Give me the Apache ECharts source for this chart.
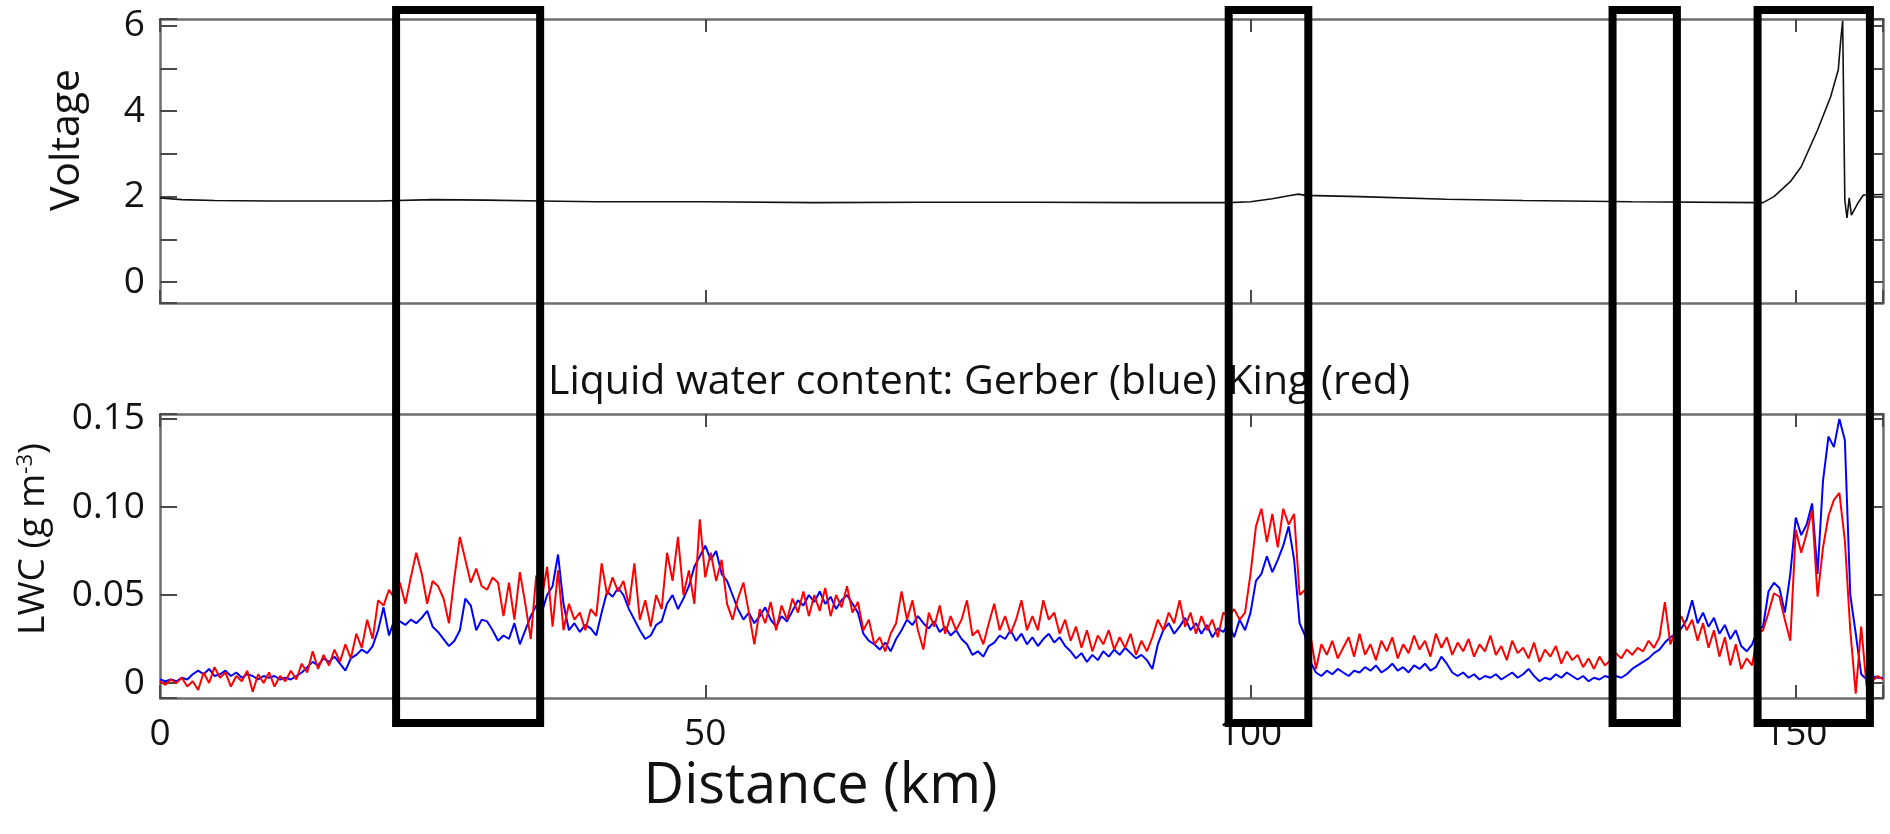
<!DOCTYPE html>
<html>
<head>
<meta charset="utf-8">
<title>Voltage and liquid water content</title>
<script src="https://cdn.jsdelivr.net/npm/echarts@6.0.0/dist/echarts.min.js"></script>
<style>
  html, body { margin: 0; padding: 0; background: #fff; }
  #main { width: 1890px; height: 834px; }
</style>
</head>
<body>
<div id="main"></div>
<script>
// distance axis (km)
const distanceMax = 158;
const distanceTicks = [0, 50, 100, 150];

// voltage trace
const voltageKm = [0, 2, 5, 10, 15, 20, 25, 30, 35, 40, 50, 60, 70, 80, 90, 98, 100, 102, 103.5, 104.4, 105, 110, 118, 125, 135, 146.5, 147,
  148, 149.5, 150.5, 152, 153.2, 153.9, 154.1, 154.3, 154.5, 154.7, 154.9, 155.1, 155.7, 156.2, 158];
const voltage = [1.97, 1.93, 1.91, 1.9, 1.9, 1.9, 1.93, 1.92, 1.9, 1.88, 1.88, 1.86, 1.87, 1.87, 1.86, 1.86, 1.88, 1.95, 2.02, 2.06, 2.03, 2.0, 1.94, 1.91, 1.88, 1.86, 1.86,
  2.0, 2.35, 2.7, 3.56, 4.34, 4.97, 5.6, 6.12, 1.92, 1.5, 1.97, 1.57, 1.85, 2.04, 2.05];
const voltageLabels = [0, 2, 4, 6];

// liquid water content, one sample every 0.5 km from 0 km
const lwcStepKm = 0.5;
const gerberLwc = [
  0.002, 0.001, 0.002, 0.001, 0.003, 0.002, 0.005, 0.007, 0.005, 0.008, 0.004, 0.005, 0.007, 0.004, 0.006, 0.003, 0.005, 0.004, 0.002, 0.004,
  0.003, 0.004, 0.002, 0.003, 0.002, 0.004, 0.006, 0.009, 0.012, 0.010, 0.014, 0.012, 0.015, 0.011, 0.007, 0.014, 0.016, 0.019, 0.017, 0.021,
  0.030, 0.043, 0.027, 0.036, 0.035, 0.033, 0.036, 0.034, 0.037, 0.041, 0.032, 0.029, 0.025, 0.021, 0.024, 0.030, 0.048, 0.044, 0.030, 0.036,
  0.035, 0.030, 0.024, 0.027, 0.025, 0.034, 0.022, 0.030, 0.038, 0.044, 0.040, 0.050, 0.055, 0.073, 0.045, 0.030, 0.034, 0.029, 0.033, 0.031,
  0.027, 0.040, 0.052, 0.049, 0.054, 0.050, 0.042, 0.036, 0.030, 0.025, 0.027, 0.033, 0.035, 0.045, 0.050, 0.042, 0.048, 0.055, 0.066, 0.072,
  0.078, 0.070, 0.075, 0.062, 0.058, 0.050, 0.042, 0.036, 0.040, 0.034, 0.038, 0.043, 0.036, 0.032, 0.038, 0.035, 0.041, 0.047, 0.044, 0.050,
  0.046, 0.052, 0.045, 0.049, 0.042, 0.047, 0.050, 0.045, 0.040, 0.028, 0.024, 0.022, 0.019, 0.023, 0.018, 0.025, 0.030, 0.036, 0.033, 0.038,
  0.034, 0.031, 0.035, 0.029, 0.032, 0.027, 0.030, 0.025, 0.022, 0.016, 0.018, 0.015, 0.021, 0.023, 0.027, 0.025, 0.030, 0.024, 0.028, 0.022,
  0.026, 0.021, 0.025, 0.028, 0.023, 0.026, 0.021, 0.018, 0.014, 0.017, 0.012, 0.016, 0.013, 0.018, 0.015, 0.019, 0.016, 0.020, 0.017, 0.014,
  0.016, 0.013, 0.008, 0.022, 0.030, 0.034, 0.028, 0.032, 0.037, 0.030, 0.034, 0.028, 0.033, 0.026, 0.031, 0.029, 0.034, 0.026, 0.036, 0.030,
  0.040, 0.058, 0.062, 0.072, 0.063, 0.070, 0.078, 0.089, 0.070, 0.034, 0.027, 0.012, 0.006, 0.004, 0.007, 0.005, 0.008, 0.006, 0.004, 0.007,
  0.006, 0.009, 0.007, 0.010, 0.006, 0.008, 0.011, 0.007, 0.009, 0.006, 0.010, 0.008, 0.011, 0.007, 0.009, 0.015, 0.011, 0.006, 0.004, 0.006,
  0.003, 0.005, 0.002, 0.004, 0.003, 0.005, 0.002, 0.004, 0.006, 0.003, 0.005, 0.008, 0.004, 0.001, 0.003, 0.002, 0.005, 0.003, 0.006, 0.004,
  0.002, 0.004, 0.001, 0.003, 0.002, 0.004, 0.003, 0.004, 0.003, 0.005, 0.008, 0.010, 0.012, 0.014, 0.017, 0.019, 0.023, 0.026, 0.028, 0.031,
  0.036, 0.047, 0.034, 0.040, 0.032, 0.037, 0.028, 0.033, 0.025, 0.030, 0.021, 0.018, 0.022, 0.030, 0.032, 0.052, 0.057, 0.054, 0.040, 0.062,
  0.094, 0.084, 0.090, 0.102, 0.062, 0.115, 0.140, 0.134, 0.150, 0.138, 0.050, 0.028, 0.005, 0.002, 0.004, 0.003, 0.003
];
const kingLwc = [
  0.001, -0.001, 0.002, 0.000, 0.003, -0.002, 0.001, -0.004, 0.006, 0.000, 0.009, 0.003, 0.006, -0.002, 0.004, 0.001, 0.007, -0.005, 0.005, 0.000,
  0.006, -0.002, 0.004, 0.001, 0.007, 0.002, 0.011, 0.006, 0.018, 0.008, 0.016, 0.010, 0.019, 0.012, 0.022, 0.014, 0.028, 0.020, 0.036, 0.025,
  0.047, 0.044, 0.053, 0.048, 0.057, 0.045, 0.060, 0.074, 0.062, 0.045, 0.058, 0.055, 0.048, 0.034, 0.060, 0.083, 0.070, 0.057, 0.065, 0.055,
  0.053, 0.060, 0.057, 0.038, 0.057, 0.036, 0.063, 0.045, 0.025, 0.061, 0.048, 0.066, 0.032, 0.064, 0.030, 0.045, 0.036, 0.040, 0.030, 0.042,
  0.038, 0.068, 0.050, 0.060, 0.052, 0.058, 0.044, 0.068, 0.036, 0.047, 0.032, 0.050, 0.042, 0.074, 0.058, 0.083, 0.050, 0.064, 0.045, 0.093,
  0.060, 0.074, 0.058, 0.070, 0.045, 0.036, 0.048, 0.057, 0.040, 0.022, 0.042, 0.034, 0.046, 0.030, 0.044, 0.036, 0.048, 0.040, 0.052, 0.038,
  0.050, 0.041, 0.054, 0.038, 0.050, 0.043, 0.055, 0.040, 0.046, 0.030, 0.036, 0.022, 0.026, 0.018, 0.028, 0.034, 0.052, 0.036, 0.047, 0.030,
  0.019, 0.040, 0.032, 0.044, 0.028, 0.038, 0.030, 0.036, 0.047, 0.027, 0.030, 0.022, 0.034, 0.045, 0.030, 0.038, 0.028, 0.036, 0.047, 0.030,
  0.038, 0.030, 0.047, 0.036, 0.040, 0.028, 0.036, 0.024, 0.032, 0.020, 0.030, 0.018, 0.027, 0.022, 0.030, 0.019, 0.026, 0.020, 0.028, 0.016,
  0.024, 0.018, 0.026, 0.036, 0.030, 0.040, 0.034, 0.047, 0.032, 0.040, 0.028, 0.038, 0.030, 0.036, 0.026, 0.040, 0.038, 0.042, 0.036, 0.040,
  0.062, 0.089, 0.099, 0.080, 0.096, 0.077, 0.099, 0.090, 0.096, 0.050, 0.053, 0.027, 0.008, 0.022, 0.016, 0.024, 0.014, 0.020, 0.026, 0.015,
  0.028, 0.016, 0.022, 0.013, 0.024, 0.018, 0.026, 0.014, 0.022, 0.017, 0.027, 0.019, 0.024, 0.015, 0.028, 0.020, 0.026, 0.016, 0.023, 0.018,
  0.025, 0.015, 0.022, 0.018, 0.027, 0.016, 0.021, 0.013, 0.024, 0.017, 0.020, 0.014, 0.023, 0.012, 0.019, 0.015, 0.021, 0.011, 0.018, 0.013,
  0.016, 0.009, 0.014, 0.008, 0.015, 0.010, 0.013, 0.017, 0.014, 0.019, 0.016, 0.020, 0.018, 0.024, 0.020, 0.026, 0.046, 0.022, 0.030, 0.038,
  0.030, 0.036, 0.024, 0.034, 0.020, 0.030, 0.015, 0.026, 0.010, 0.022, 0.008, 0.014, 0.010, 0.028, 0.030, 0.040, 0.051, 0.049, 0.036, 0.024,
  0.087, 0.074, 0.085, 0.098, 0.049, 0.077, 0.095, 0.104, 0.108, 0.081, 0.030, -0.006, 0.032, -0.002, 0.001, 0.004, 0.002
];
const lwcLabels = [0, 0.05, 0.10, 0.15];

// highlighted stretches (km)
const boxStartKm = [21.65, 98.0, 133.2, 146.5];
const boxEndKm = [34.86, 105.3, 139.1, 156.8];

const FONT = 'Open Sans';
const frameColor = '#6e6e6e';
const tickColor = '#4a4a4a';

// label only the listed values, hide the rest (extent ticks included)
const labelIf = (list, digits) => (v) => {
  const hit = list.find((t) => Math.abs(t - v) < 1e-9);
  if (hit === undefined) return '';
  return hit === 0 ? '0' : hit.toFixed(digits);
};

const toPairs = (values) => values.map((v, i) => [i * lwcStepKm, v]);
const voltagePairs = voltageKm.map((km, i) => [km, voltage[i]]);

function xAxisFor(gridIndex, position, withLabels) {
  return {
    type: 'value',
    gridIndex,
    position,
    min: 0,
    max: distanceMax,
    interval: 50,
    axisLine: { show: true, onZero: false, lineStyle: { color: frameColor, width: 2.5 } },
    axisTick: { show: true, inside: true, length: 13, lineStyle: { color: tickColor, width: 2 } },
    axisLabel: {
      show: withLabels,
      margin: 18,
      color: '#111',
      fontFamily: FONT,
      fontSize: 37,
      formatter: labelIf(distanceTicks, 0)
    },
    splitLine: { show: false }
  };
}

function yAxisFor(gridIndex, position, min, max, splitNumber, labels, digits, withLabels) {
  return {
    type: 'value',
    gridIndex,
    position,
    min,
    max,
    splitNumber,
    axisLine: { show: true, onZero: false, lineStyle: { color: frameColor, width: 2.5 } },
    axisTick: { show: true, inside: true, length: 17, lineStyle: { color: tickColor, width: 2 } },
    axisLabel: {
      show: withLabels,
      margin: 15,
      color: '#111',
      fontFamily: FONT,
      fontSize: 37,
      formatter: labelIf(labels, digits)
    },
    splitLine: { show: false }
  };
}

const chart = echarts.init(document.getElementById('main'), null, { renderer: 'canvas' });

// left padding on the rotated names lifts them a little above the panel centre
const topAxisY = yAxisFor(0, 'left', -0.49, 6.16, 7, voltageLabels, 0, true);
topAxisY.name = 'Voltage';
topAxisY.nameLocation = 'middle';
topAxisY.nameGap = 72;
topAxisY.nameTextStyle = { fontFamily: FONT, fontSize: 41, color: '#111', padding: [0, 0, 0, 42] };

const lowAxisY = yAxisFor(1, 'left', -0.0085, 0.1528, 3, lwcLabels, 2, true);
lowAxisY.name = 'LWC (g m{sup|-3})';
lowAxisY.nameLocation = 'middle';
lowAxisY.nameGap = 108;
lowAxisY.nameTextStyle = {
  fontFamily: FONT, fontSize: 37, color: '#111', padding: [0, 0, 0, 34],
  rich: { sup: { fontFamily: FONT, fontSize: 22, color: '#111', verticalAlign: 'top', padding: [0, 0, 14, 0] } }
};

const lowAxisX = xAxisFor(1, 'bottom', true);
lowAxisX.name = 'Distance (km)';
lowAxisX.nameLocation = 'middle';
lowAxisX.nameGap = 61;
lowAxisX.nameTextStyle = { fontFamily: FONT, fontSize: 56, color: '#111', padding: [0, 402, 0, 0] };

const option = {
  animation: false,
  backgroundColor: '#fff',
  title: [{
    text: 'Liquid water content: Gerber (blue) King (red)',
    left: 548,
    top: 362,
    padding: 0,
    textStyle: { fontFamily: FONT, fontSize: 41, fontWeight: 'normal', color: '#111' }
  }],
  grid: [
    { left: 160, right: 7, top: 19, height: 284, outerBoundsMode: 'none' },
    { left: 160, right: 7, top: 414, height: 284, outerBoundsMode: 'none' }
  ],
  xAxis: [
    xAxisFor(0, 'bottom', false),
    xAxisFor(0, 'top', false),
    lowAxisX,
    xAxisFor(1, 'top', false)
  ],
  yAxis: [
    topAxisY,
    yAxisFor(0, 'right', -0.49, 6.16, 7, voltageLabels, 0, false),
    lowAxisY,
    yAxisFor(1, 'right', -0.0085, 0.1528, 3, lwcLabels, 2, false)
  ],
  series: [
    {
      name: 'Voltage',
      type: 'line',
      xAxisIndex: 0,
      yAxisIndex: 0,
      data: voltagePairs,
      showSymbol: false,
      lineStyle: { color: '#111', width: 1.6 },
      z: 3
    },
    {
      name: 'Gerber',
      type: 'line',
      xAxisIndex: 2,
      yAxisIndex: 2,
      data: toPairs(gerberLwc),
      showSymbol: false,
      lineStyle: { color: '#0000ff', width: 2 },
      z: 3
    },
    {
      name: 'King',
      type: 'line',
      xAxisIndex: 2,
      yAxisIndex: 2,
      data: toPairs(kingLwc),
      showSymbol: false,
      lineStyle: { color: '#ff0000', width: 2 },
      z: 4
    }
  ]
};

chart.setOption(option);

// black boxes spanning both panels
const boxTop = 10;
const boxBottom = 723;
chart.setOption({
  graphic: boxStartKm.map((start, i) => {
    const x0 = chart.convertToPixel({ xAxisIndex: 2 }, start);
    const x1 = chart.convertToPixel({ xAxisIndex: 2 }, boxEndKm[i]);
    return {
      type: 'rect',
      z: 100,
      shape: { x: x0, y: boxTop, width: x1 - x0, height: boxBottom - boxTop },
      style: { fill: 'none', stroke: '#000', lineWidth: 8 }
    };
  })
});
</script>
</body>
</html>
